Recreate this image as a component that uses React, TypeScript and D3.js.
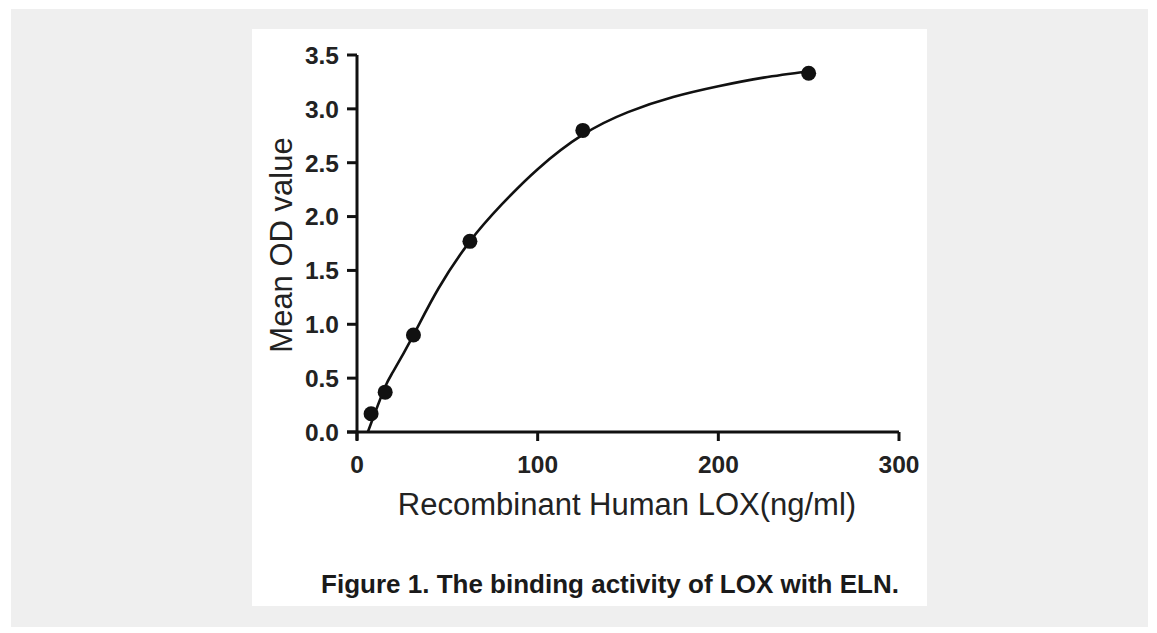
import * as d3 from 'd3'

// measured points (ng/ml vs mean OD)
const concentrations = [7.8, 15.6, 31.25, 62.5, 125, 250]
const meanOD = [0.17, 0.37, 0.9, 1.77, 2.8, 3.33]

// fitted curve
const fitX = [6, 10, 15.6, 20, 31.25, 45, 62.5, 80, 100, 125, 150, 175, 200, 225, 250]
const fitY = [0, 0.18, 0.42, 0.56, 0.9, 1.33, 1.77, 2.11, 2.44, 2.76, 2.97, 3.11, 3.21, 3.29, 3.35]

const xTicks = [0, 100, 200, 300]
const yTicks = [0, 0.5, 1, 1.5, 2, 2.5, 3, 3.5]

const xTitle = 'Recombinant Human LOX(ng/ml)'
const yTitle = 'Mean OD value'
const caption = 'Figure 1. The binding activity of LOX with ELN.'

const W = 1157
const H = 633
const font = 'Arial, "Liberation Sans", sans-serif'

export default function App() {
  const x = d3.scaleLinear().domain([0, 300]).range([357, 899])
  const y = d3.scaleLinear().domain([0, 3.5]).range([432, 55])
  const fmt = d3.format('.1f')

  const line = d3
    .line<number>()
    .x((d) => x(d))
    .y((_, i) => y(fitY[i]))
    .curve(d3.curveNatural)

  const axisColor = '#111'

  return (
    <div style={{ position: 'fixed', left: 0, top: 0 }}>
      <svg width={W} height={H} style={{ display: 'block' }}>
        <rect x={0} y={0} width={W} height={H} fill="#fff" />
        <rect x={11} y={9} width={1137} height={618} fill="#efefef" />
        <rect x={252} y={29} width={675} height={577} fill="#fff" />

        {/* y axis */}
        <line x1={x(0)} x2={x(0)} y1={y(3.5)} y2={y(0) + 8} stroke={axisColor} strokeWidth={3} />
        {yTicks.map((t) => (
          <g key={'y' + t}>
            <line x1={x(0) - 10} x2={x(0)} y1={y(t)} y2={y(t)} stroke={axisColor} strokeWidth={3} />
            <text
              x={339}
              y={y(t)}
              dy="0.36em"
              textAnchor="end"
              fontFamily={font}
              fontWeight="bold"
              fontSize={24.5}
              fill="#222"
            >
              {fmt(t)}
            </text>
          </g>
        ))}

        {/* x axis */}
        <line x1={x(0) - 10} x2={x(300)} y1={y(0)} y2={y(0)} stroke={axisColor} strokeWidth={3} />
        {xTicks.map((t) => (
          <g key={'x' + t}>
            <line x1={x(t)} x2={x(t)} y1={y(0)} y2={y(0) + 9} stroke={axisColor} strokeWidth={3} />
            <text
              x={x(t)}
              y={473}
              textAnchor="middle"
              fontFamily={font}
              fontWeight="bold"
              fontSize={24.5}
              fill="#222"
            >
              {t}
            </text>
          </g>
        ))}

        {/* fit curve */}
        <path d={line(fitX) ?? ''} fill="none" stroke="#111" strokeWidth={2.6} />

        {/* data points */}
        {concentrations.map((c, i) => (
          <circle key={c} cx={x(c)} cy={y(meanOD[i])} r={7.5} fill="#111" />
        ))}

        <text x={627} y={515} textAnchor="middle" fontFamily={font} fontSize={31} fill="#222">
          {xTitle}
        </text>
        <text
          transform="translate(292,245) rotate(-90)"
          textAnchor="middle"
          fontFamily={font}
          fontSize={31}
          fill="#222"
        >
          {yTitle}
        </text>

        <text x={610} y={593} textAnchor="middle" fontFamily={font} fontWeight="bold" fontSize={26} fill="#1a1a1a">
          {caption}
        </text>
      </svg>
    </div>
  )
}
